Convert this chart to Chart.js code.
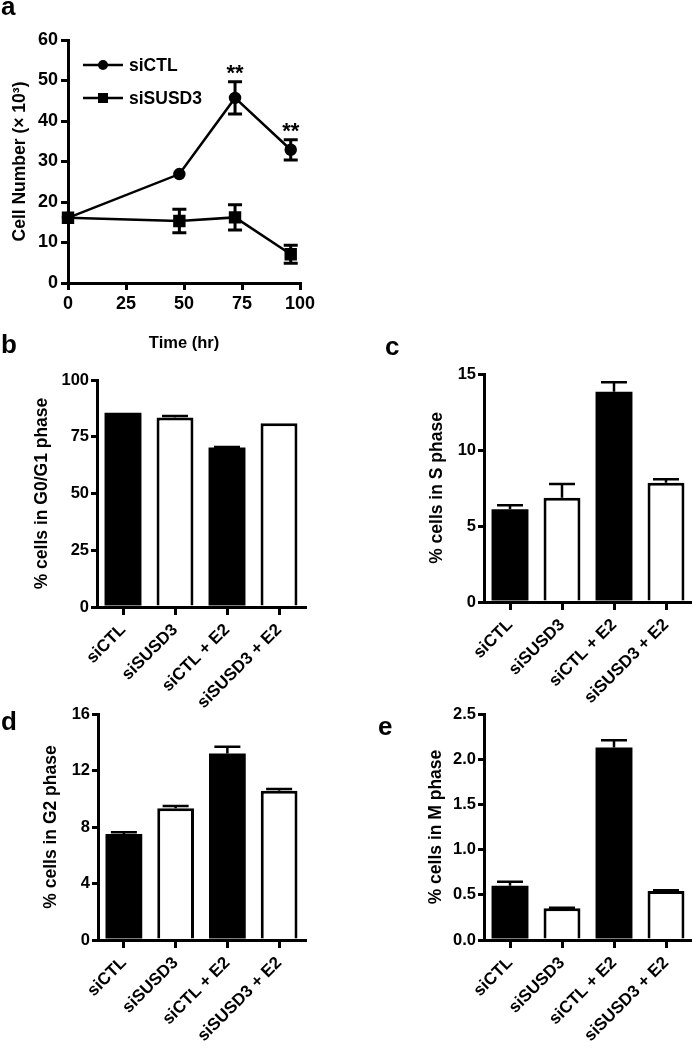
<!DOCTYPE html>
<html>
<head>
<meta charset="utf-8">
<script src="https://cdn.jsdelivr.net/npm/chart.js@4/dist/chart.umd.min.js"></script>
<style>
  body { margin: 0; background: #fff; width: 692px; height: 1048px; position: relative; overflow: hidden; }
  .panel { position: absolute; }
  .letter { position: absolute; font: bold 26px/26px 'Liberation Sans', Arial, sans-serif; color: #000; }
</style>
</head>
<body>
<div class="panel" style="left:0;top:0"><canvas id="chartA" width="340" height="360"></canvas></div>
<div class="panel" style="left:0;top:360px"><canvas id="chartB" width="340" height="360"></canvas></div>
<div class="panel" style="left:340px;top:360px"><canvas id="chartC" width="352" height="360"></canvas></div>
<div class="panel" style="left:0;top:690px"><canvas id="chartD" width="340" height="358"></canvas></div>
<div class="panel" style="left:340px;top:690px"><canvas id="chartE" width="352" height="358"></canvas></div>

<div class="letter" style="left:1px;top:-7px">a</div>
<div class="letter" style="left:1px;top:331px">b</div>
<div class="letter" style="left:385px;top:333px">c</div>
<div class="letter" style="left:1px;top:708px">d</div>
<div class="letter" style="left:378px;top:713px">e</div>

<script>
// panel a: growth curve
var timePoints = [0, 48, 72, 96];
var ctlCells = [16.1, 26.9, 45.7, 32.9];
var ctlErr = [0, 0, 4.0, 2.5];
var susdCells = [16.1, 15.3, 16.2, 7.1];
var susdErr = [0, 2.9, 3.1, 2.25];
var sigTimes = [72, 96];   // "**" marks over siCTL

// panels b-e: cell cycle phases
var groups = ['siCTL', 'siSUSD3', 'siCTL + E2', 'siSUSD3 + E2'];
var g1Values = [85.6, 83.5, 70.3, 80.9];
var g1Err = [0, 0.6, 0.2, 0];
var sValues = [6.1, 6.86, 13.83, 7.85];
var sErr = [0.27, 0.9, 0.62, 0.22];
var g2Values = [7.5, 9.32, 13.2, 10.57];
var g2Err = [0.12, 0.17, 0.49, 0.12];
var mValues = [0.6, 0.35, 2.13, 0.542];
var mErr = [0.045, 0.008, 0.08, 0.008];

var FONT = "'Liberation Sans', Arial, sans-serif";
Chart.defaults.font.family = FONT;
Chart.defaults.font.weight = 'bold';
Chart.defaults.font.size = 16;
Chart.defaults.color = '#000';

var errorBars = {
  id: 'errorBars',
  afterDatasetsDraw: function (chart, args, opts) {
    var ctx = chart.ctx;
    var yScale = chart.scales.y;
    ctx.save();
    ctx.strokeStyle = '#000';
    ctx.lineWidth = opts.lineWidth;
    chart.data.datasets.forEach(function (ds, di) {
      if (!ds.errors) return;
      var meta = chart.getDatasetMeta(di);
      meta.data.forEach(function (el, i) {
        var e = ds.errors[i];
        if (!e) return;
        var v = ds.data[i];
        if (typeof v === 'object') v = v.y;
        var half = opts.cap / 2;
        var top = yScale.getPixelForValue(v + e);
        var bot = yScale.getPixelForValue(opts.upOnly ? v : v - e);
        ctx.beginPath();
        ctx.moveTo(el.x, bot);
        ctx.lineTo(el.x, top);
        ctx.moveTo(el.x - half, top);
        ctx.lineTo(el.x + half, top);
        if (!opts.upOnly) {
          ctx.moveTo(el.x - half, bot);
          ctx.lineTo(el.x + half, bot);
        }
        ctx.stroke();
      });
    });
    ctx.restore();
  }
};

// legend with line + marker, like the prism style
var lineLegend = {
  id: 'lineLegend',
  afterDraw: function (chart, args, opts) {
    if (!opts.show) return;
    var ctx = chart.ctx;
    ctx.save();
    chart.data.datasets.forEach(function (ds, i) {
      var y = opts.top + i * opts.gap;
      var x0 = opts.left, x1 = opts.left + 40, xm = opts.left + 20;
      ctx.strokeStyle = '#000';
      ctx.fillStyle = '#000';
      ctx.lineWidth = 2.5;
      ctx.beginPath();
      ctx.moveTo(x0, y);
      ctx.lineTo(x1, y);
      ctx.stroke();
      if (ds.pointStyle === 'rect') {
        ctx.fillRect(xm - 5, y - 5, 10, 10);
      } else {
        ctx.beginPath();
        ctx.arc(xm, y, 5, 0, Math.PI * 2);
        ctx.fill();
      }
      ctx.font = 'bold 17.5px ' + FONT;
      ctx.textBaseline = 'middle';
      ctx.fillText(ds.label, x1 + 6, y + 1);
    });
    ctx.restore();
  }
};

var sigStars = {
  id: 'sigStars',
  afterDatasetsDraw: function (chart, args, opts) {
    if (!opts.show) return;
    var ctx = chart.ctx;
    ctx.save();
    ctx.font = 'bold 22px ' + FONT;
    ctx.textAlign = 'center';
    ctx.textBaseline = 'alphabetic';
    ctx.fillStyle = '#000';
    sigTimes.forEach(function (t) {
      var i = timePoints.indexOf(t);
      var x = chart.scales.x.getPixelForValue(t);
      var y = chart.scales.y.getPixelForValue(ctlCells[i] + ctlErr[i]);
      ctx.fillText('**', x, y - 2);
    });
    ctx.restore();
  }
};

Chart.register(errorBars, lineLegend, sigStars);

function axisGrid() {
  return { display: true, drawOnChartArea: false, color: '#000', lineWidth: 3, tickLength: 7 };
}
function axisBorder() {
  return { display: true, color: '#000', width: 3 };
}

new Chart(document.getElementById('chartA'), {
  type: 'line',
  data: {
    datasets: [{
      label: 'siCTL',
      data: timePoints.map(function (t, i) { return { x: t, y: ctlCells[i] }; }),
      errors: ctlErr,
      borderColor: '#000', backgroundColor: '#000', borderWidth: 2.5,
      pointStyle: 'circle', pointRadius: 5, tension: 0, clip: false
    }, {
      label: 'siSUSD3',
      data: timePoints.map(function (t, i) { return { x: t, y: susdCells[i] }; }),
      errors: susdErr,
      borderColor: '#000', backgroundColor: '#000', borderWidth: 2.5,
      pointStyle: 'rect', pointRadius: 7, tension: 0, clip: false
    }]
  },
  options: {
    responsive: false,
    animation: false,
    layout: { padding: { left: 0, right: 40, top: 40, bottom: 0 } },
    plugins: {
      legend: { display: false },
      tooltip: { enabled: false },
      errorBars: { cap: 14, lineWidth: 3, upOnly: false },
      lineLegend: { show: true, left: 83, top: 65, gap: 33 },
      sigStars: { show: true }
    },
    scales: {
      x: {
        type: 'linear', min: 0, max: 100,
        ticks: { stepSize: 25, font: { size: 18 }, padding: 3 },
        grid: axisGrid(), border: axisBorder(),
        title: { display: true, text: 'Time (hr)', font: { size: 16.5 }, padding: { bottom: 7 } },
        afterFit: function (s) { s.height = 77; }
      },
      y: {
        min: 0, max: 60,
        ticks: { stepSize: 10, font: { size: 18 }, padding: 3 },
        grid: axisGrid(), border: axisBorder(),
        title: { display: true, text: 'Cell Number (× 10³)', font: { size: 17.5 }, padding: { top: 10 } },
        afterFit: function (s) { s.width = 68; }
      }
    }
  }
});

function phaseChart(id, values, errs, yMax, step, yTitle, box, decimals) {
  return new Chart(document.getElementById(id), {
    type: 'bar',
    data: {
      labels: groups,
      datasets: [{
        data: values,
        errors: errs,
        backgroundColor: ['#000', '#fff', '#000', '#fff'],
        borderColor: '#000',
        borderWidth: [0, 3, 0, 3],
        barPercentage: 0.71,
        categoryPercentage: 1
      }]
    },
    options: {
      responsive: false,
      animation: false,
      layout: { padding: { left: 0, right: box.right, top: box.top, bottom: 0 } },
      plugins: {
        legend: { display: false },
        tooltip: { enabled: false },
        errorBars: { cap: 26, lineWidth: 2.5, upOnly: true }
      },
      scales: {
        x: {
          ticks: { minRotation: 45, maxRotation: 45, font: { size: 17 }, padding: 5 },
          grid: Object.assign(axisGrid(), { offset: false, tickLength: 8 }),
          border: axisBorder(),
          afterFit: function (s) { s.height = box.xh; }
        },
        y: {
          min: 0, max: yMax,
          ticks: {
            stepSize: step, font: { size: 16.5 }, padding: 2,
            callback: function (v) { return decimals ? v.toFixed(decimals) : v; }
          },
          grid: Object.assign(axisGrid(), { tickLength: 6 }),
          border: axisBorder(),
          title: { display: true, text: yTitle, font: { size: 17.5 }, padding: { top: box.tpad } },
          afterFit: function (s) { s.width = box.yw; }
        }
      }
    }
  });
}

phaseChart('chartB', g1Values, g1Err, 100, 25, '% cells in G0/G1 phase',
  { right: 35, top: 20, xh: 113, yw: 97, tpad: 32 }, 0);
phaseChart('chartC', sValues, sErr, 15, 5, '% cells in S phase',
  { right: 0, top: 14, xh: 118, yw: 144, tpad: 87 }, 0);
phaseChart('chartD', g2Values, g2Err, 16, 4, '% cells in G2 phase',
  { right: 35, top: 24, xh: 108, yw: 98, tpad: 41 }, 0);
phaseChart('chartE', mValues, mErr, 2.5, 0.5, '% cells in M phase',
  { right: 0, top: 24, xh: 108, yw: 144, tpad: 86 }, 1);
</script>
</body>
</html>
